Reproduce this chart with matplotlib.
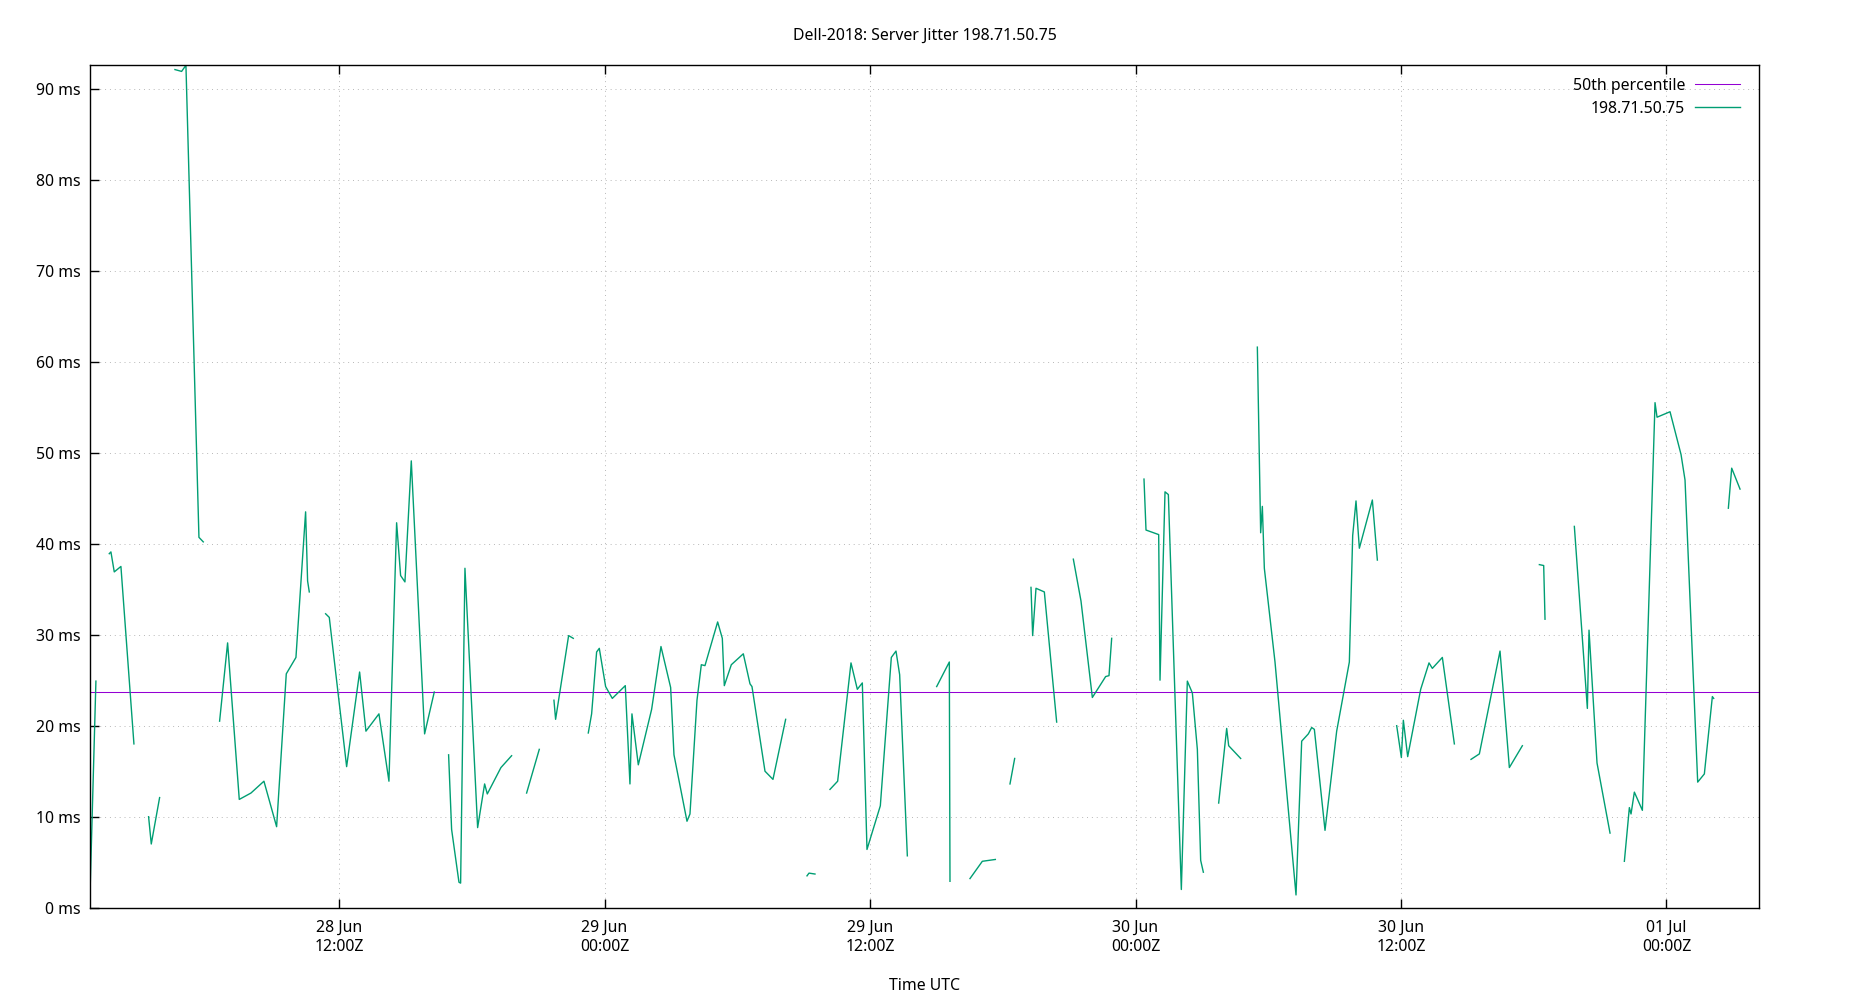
"""
Server jitter for one NTP peer over a few days, gnuplot-like look.
"""
from datetime import datetime, timedelta
import matplotlib
matplotlib.use("Agg")
import matplotlib.pyplot as plt
import matplotlib.dates as mdates

plt.rcParams['font.family'] = ['Noto Sans', 'DejaVu Sans']

TITLE = "Dell-2018: Server Jitter 198.71.50.75"
HOST = "198.71.50.75"
START = datetime(2018, 6, 28)  # hours below count from here (UTC)

# sample times in hours since START; None marks a gap in the data
HOURS = [
    0.75, 1.005, None,
    1.608, 1.683, 1.834, 2.135, 2.723, None,
    3.386, 3.507, 3.884, None,
    4.577, 4.878, 5.074, 5.662, 5.858, None,
    6.596, 6.958, 7.485, 8.013, 8.600, 9.173, 9.610, 10.047, 10.484, 10.574, 10.650, None,
    11.388, 11.554, 12.338, 12.925, 13.211, 13.799, 14.251, 14.598, 14.778, 14.974, 15.261,
    15.863, 16.300, None,
    16.948, 17.084, 17.416, 17.491, 17.687, 18.260, 18.576, 18.697, 19.314, 19.796, None,
    20.474, 21.047, None,
    21.710, 21.785, 22.373, 22.584, None,
    23.262, 23.413, 23.639, 23.760, 24.046, 24.348, 24.935, 25.146, 25.236, 25.523, 26.126,
    26.548, 26.985, 27.136, 27.724, 27.859, 28.176, 28.372, 28.537, 29.110, 29.321, 29.411,
    29.728, 30.270, 30.572, 30.662, 31.250, 31.611, 32.184, None,
    33.149, 33.239, 33.510, None,
    34.188, 34.535, 35.138, 35.424, 35.650, 35.861, 36.464, 36.961, 37.172, 37.338, 37.685, None,
    39.011, 39.583, 39.613, None,
    40.517, 41.075, 41.663, None,
    42.325, 42.537, None,
    43.275, 43.350, 43.501, 43.878, 44.435, None,
    45.189, 45.535, 46.048, 46.650, 46.801, 46.922, None,
    48.383, 48.474, 49.047, 49.107, 49.333, 49.484, 50.071, 50.342, 50.569, 50.795, 50.945,
    51.066, None,
    51.759, 52.121, 52.211, 52.753, None,
    53.507, 53.657, 53.733, 53.823, 54.305, 55.255, 55.511, 55.812, 55.963, 56.084, 56.566,
    57.093, 57.666, 57.817, 57.967, 58.118, 58.706, 58.932, None,
    59.806, 60.017, 60.107, 60.303, 60.891, 61.267, 61.418, 61.870, 62.413, None,
    63.166, 63.543, 64.477, 64.899, 65.487, None,
    66.255, 66.451, 66.511, None,
    67.837, 68.425, 68.500, 68.862, 69.450, None,
    70.098, 70.324, 70.399, 70.550, 70.912, 71.484, 71.575, 72.162, 72.660, 72.840, 73.413,
    73.714, 74.076, 74.136, None,
    74.799, 74.950, 75.327,
]

# jitter in ms, same layout as HOURS
JITTER = [
    2.6, 24.9, None,
    38.9, 39.1, 36.9, 37.5, 18.0, None,
    10.0, 7.0, 12.1, None,
    92.1, 91.9, 92.57, 40.7, 40.2, None,
    20.5, 29.1, 11.9, 12.6, 13.9, 8.9, 25.7, 27.5, 43.5, 35.9, 34.7, None,
    32.3, 31.9, 15.5, 25.9, 19.4, 21.3, 13.9, 42.3, 36.5, 35.8, 49.1,
    19.1, 23.7, None,
    16.8, 8.6, 2.8, 2.7, 37.3, 8.8, 13.6, 12.5, 15.4, 16.7, None,
    12.6, 17.4, None,
    22.8, 20.7, 29.9, 29.6, None,
    19.2, 21.3, 28.1, 28.5, 24.3, 23.0, 24.4, 13.6, 21.3, 15.7, 21.8,
    28.7, 24.2, 16.8, 9.5, 10.3, 22.8, 26.7, 26.6, 31.4, 29.6, 24.4,
    26.7, 27.9, 24.6, 24.3, 15.0, 14.1, 20.7, None,
    3.5, 3.8, 3.7, None,
    13.0, 13.9, 26.9, 24.0, 24.7, 6.4, 11.2, 27.5, 28.2, 25.6, 5.7, None,
    24.3, 27.0, 2.9, None,
    3.2, 5.1, 5.3, None,
    13.6, 16.4, None,
    35.2, 29.9, 35.1, 34.7, 20.4, None,
    38.3, 33.7, 23.1, 25.4, 25.5, 29.6, None,
    47.1, 41.5, 41.0, 25.0, 45.7, 45.4, 2.0, 24.9, 23.6, 17.4, 5.2,
    3.9, None,
    11.5, 19.7, 17.8, 16.4, None,
    61.6, 41.2, 44.1, 37.3, 27.0, 1.4, 18.3, 19.1, 19.8, 19.6, 8.5,
    19.4, 27.0, 40.9, 44.7, 39.5, 44.8, 38.2, None,
    20.0, 16.5, 20.6, 16.6, 24.0, 26.9, 26.3, 27.5, 18.0, None,
    16.3, 16.9, 28.2, 15.4, 17.8, None,
    37.7, 37.6, 31.7, None,
    41.9, 21.9, 30.5, 15.9, 8.2, None,
    5.1, 11.0, 10.3, 12.7, 10.7, 55.5, 53.9, 54.5, 49.8, 47.0, 13.8,
    14.7, 23.2, 23.0, None,
    43.9, 48.3, 46.0,
]

MEDIAN = 23.7
X_RANGE = (0.75, 76.2)  # hours
Y_MAX = 92.57
Y_TICKS = [0, 10, 20, 30, 40, 50, 60, 70, 80, 90]

GREEN = "#009e73"
PURPLE = "#9400d3"
FS = 11.4


def to_dates(hours):
    return [START + timedelta(hours=h) if h is not None else None for h in hours]


def graph():
    fig = plt.figure(figsize=(18.5, 10), dpi=100)
    ax = fig.add_axes([0.0488, 0.0923, 0.9022, 0.8424])

    times = to_dates(HOURS)
    x = [mdates.date2num(t) if t is not None else float('nan') for t in times]
    y = [v if v is not None else float('nan') for v in JITTER]

    x0 = mdates.date2num(START + timedelta(hours=X_RANGE[0]))
    x1 = mdates.date2num(START + timedelta(hours=X_RANGE[1]))

    ax.plot([x0, x1], [MEDIAN, MEDIAN], color=PURPLE, lw=0.75, snap=True,
            label="50th percentile")
    ax.plot(x, y, color=GREEN, lw=1.0, label=HOST)

    ax.set_xlim(x0, x1)
    ax.set_ylim(0, Y_MAX)
    ax.set_yticks(Y_TICKS)
    ax.set_yticklabels([f"{v} ms" for v in Y_TICKS])
    ax.xaxis.set_major_locator(mdates.HourLocator(byhour=[0, 12]))
    ax.xaxis.set_major_formatter(mdates.DateFormatter("%d %b\n%H:%MZ"))

    ax.grid(True, color="#b8b8b8", lw=0.7, linestyle=(0, (1, 4)))
    # gnuplot style: inward ticks, mirrored on top only
    ax.tick_params(direction="in", length=6.5, width=1, top=True, right=False,
                   labelsize=FS, colors="black")
    ax.tick_params(axis="y", pad=7)
    ax.tick_params(axis="x", pad=9)
    for s in ax.spines.values():
        s.set_linewidth(1.0)

    fig.suptitle(TITLE, y=0.964, va="center", fontsize=FS)
    ax.set_xlabel("Time UTC", fontsize=FS, labelpad=17)

    ax.legend(loc="upper right", bbox_to_anchor=(0.992, 0.993), frameon=False,
              markerfirst=False, handlelength=2.84, fontsize=FS,
              labelspacing=0.47, borderaxespad=0.0, handletextpad=0.6)

    fig.savefig("out.png", dpi=100)


def main():
    graph()


if __name__ == "__main__":
    main()
